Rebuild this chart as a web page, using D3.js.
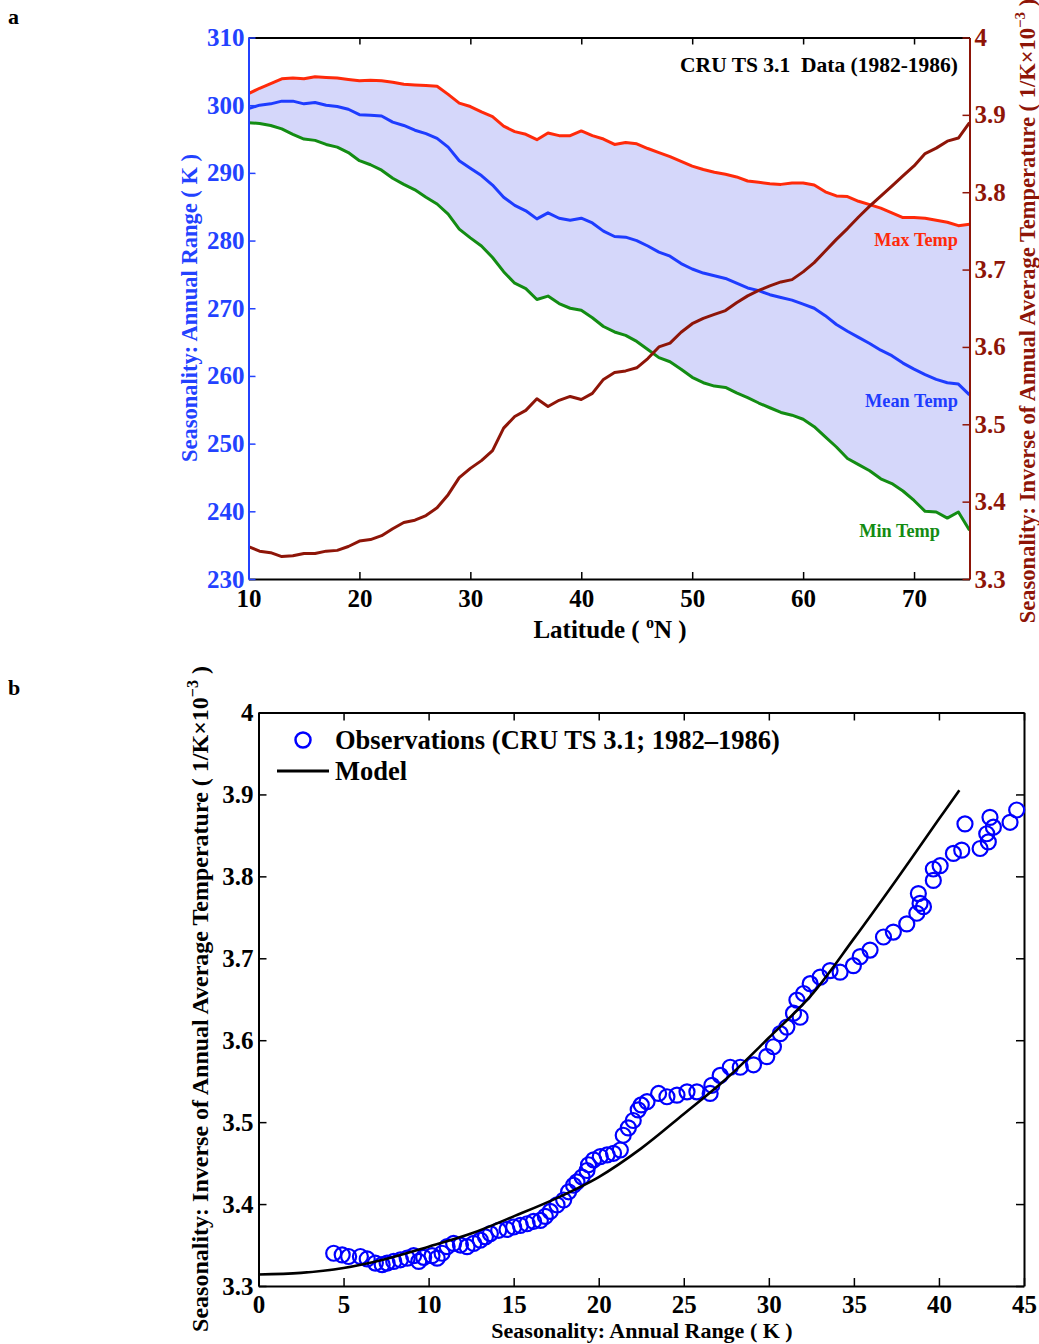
<!DOCTYPE html>
<html><head><meta charset="utf-8">
<script src="https://cdn.jsdelivr.net/npm/d3@7"></script>
<style>
body{margin:0;background:#fff;}
svg text{font-family:"Liberation Serif","Times New Roman",serif;font-weight:bold;white-space:pre;}
</style></head>
<body>
<svg id="chart" width="1039" height="1344"></svg>
<script>
// ---------- Data (panel a) ----------
const latitude = [10,11,12,13,14,15,16,17,18,19,20,21,22,23,24,25,26,27,28,29,30,31,32,33,34,35,36,37,38,39,40,41,42,43,44,45,46,47,48,49,50,51,52,53,54,55,56,57,58,59,60,61,62,63,64,65,66,67,68,69,70,71,72,73,74,75];
const maxTemp = [301.7,302.5,303.2,303.9,304.0,303.9,304.2,304.1,304.0,303.8,303.6,303.7,303.6,303.4,303.1,303.0,302.9,302.8,301.6,300.3,299.8,299.0,298.3,296.9,296.1,295.7,294.9,295.9,295.5,295.5,296.2,295.5,295.0,294.2,294.5,294.3,293.6,293.0,292.4,291.7,291.0,290.5,290.1,289.8,289.4,288.8,288.6,288.4,288.3,288.5,288.5,288.2,287.2,286.6,286.5,285.8,285.3,284.8,284.1,283.4,283.4,283.3,283.0,282.7,282.2,282.4];
const meanTemp = [299.5,300.0,300.2,300.6,300.6,300.2,300.4,300.0,299.8,299.4,298.6,298.5,298.4,297.5,297.0,296.3,295.8,295.1,293.8,291.8,290.7,289.6,288.2,286.4,285.2,284.4,283.2,284.1,283.3,283.0,283.3,282.6,281.4,280.6,280.5,280.0,279.2,278.3,277.7,276.6,275.8,275.2,274.8,274.4,273.7,273.0,272.6,272.0,271.6,271.2,270.6,270.0,268.9,267.6,266.6,265.7,264.8,263.8,263.0,261.9,261.0,260.2,259.5,259.0,258.8,257.2];
const minTemp = [297.4,297.3,297.0,296.5,295.7,295.0,294.8,294.2,293.8,293.0,291.8,291.2,290.4,289.2,288.3,287.5,286.4,285.4,283.9,281.7,280.4,279.2,277.5,275.4,273.7,272.9,271.3,271.8,270.7,270.0,269.7,268.6,267.3,266.5,266.0,265.1,263.9,262.7,262.1,261.0,259.8,259.0,258.5,258.3,257.5,256.8,256.0,255.3,254.6,254.2,253.6,252.5,251.0,249.5,247.8,246.9,246.0,244.8,244.1,243.0,241.6,240.0,239.9,239.0,239.9,237.2];
const inverseTemp = [3.342,3.336,3.334,3.329,3.330,3.333,3.333,3.336,3.337,3.342,3.349,3.351,3.356,3.365,3.373,3.376,3.382,3.392,3.409,3.431,3.443,3.453,3.466,3.495,3.510,3.518,3.533,3.523,3.531,3.536,3.532,3.540,3.558,3.567,3.569,3.573,3.585,3.600,3.605,3.619,3.630,3.637,3.642,3.647,3.657,3.666,3.673,3.679,3.684,3.687,3.697,3.709,3.724,3.739,3.753,3.768,3.782,3.795,3.808,3.821,3.834,3.850,3.857,3.866,3.870,3.890];
const latTicks = [10,20,30,40,50,60,70];
const leftTicks = [230,240,250,260,270,280,290,300,310];
const rightTicks = [3.3,3.4,3.5,3.6,3.7,3.8,3.9,4];

// ---------- Data (panel b) ----------
const obsRange = [4.42,4.92,5.30,5.99,6.39,6.87,7.27,7.56,7.95,8.34,8.74,9.12,9.42,9.71,10.20,10.50,10.79,11.09,11.47,11.87,12.26,12.65,13.04,13.34,13.63,14.12,14.61,15.00,15.39,15.79,16.17,16.57,16.86,17.15,17.55,17.94,18.23,18.52,18.72,19.02,19.31,19.40,19.70,20.09,20.49,20.87,21.27,21.44,21.74,22.03,22.32,22.50,22.84,23.52,24.01,24.60,25.19,25.77,26.55,26.65,27.14,27.73,28.32,29.10,29.88,30.27,30.67,31.06,31.45,31.65,31.84,32.04,32.43,33.02,33.60,34.19,34.97,35.37,35.95,36.74,37.32,38.11,38.70,38.89,38.79,39.09,39.67,39.67,40.07,40.85,41.34,41.53,42.42,42.81,43.00,43.20,42.90,44.18,44.57];
const obsInverse = [3.340,3.338,3.336,3.336,3.333,3.328,3.326,3.328,3.330,3.332,3.334,3.337,3.330,3.335,3.337,3.334,3.340,3.348,3.352,3.350,3.348,3.352,3.356,3.360,3.364,3.368,3.369,3.372,3.374,3.376,3.379,3.380,3.385,3.391,3.399,3.405,3.415,3.423,3.427,3.433,3.441,3.448,3.454,3.458,3.460,3.462,3.466,3.484,3.493,3.502,3.515,3.521,3.525,3.535,3.531,3.533,3.537,3.537,3.535,3.545,3.557,3.567,3.567,3.570,3.580,3.592,3.608,3.616,3.633,3.649,3.628,3.657,3.669,3.677,3.685,3.683,3.691,3.702,3.710,3.726,3.732,3.742,3.755,3.767,3.779,3.763,3.795,3.809,3.813,3.828,3.832,3.864,3.834,3.852,3.872,3.860,3.842,3.866,3.881];
const modelRange = [0,2.5,5,7.5,10,12.5,15,17.5,20,22.5,25,27.5,30,32.5,35,37.5,40,41.2];
const modelInverse = [3.314,3.316,3.322,3.333,3.348,3.364,3.385,3.407,3.433,3.468,3.510,3.553,3.603,3.655,3.724,3.796,3.870,3.905];
const rangeTicks = [0,5,10,15,20,25,30,35,40,45];
const inverseTicks = [3.3,3.4,3.5,3.6,3.7,3.8,3.9,4];

// ---------- Styles ----------
const C = {
  red:"#ff2a0a", blue:"#1e3cff", green:"#138c13", dark:"#8e1508",
  fill:"#d5d7fa", tickBlue:"#2342ff", black:"#000"
};

const svg = d3.select("#chart");

// ================= PANEL A =================
const A = {l:248.5, r:969.5, t:37.5, b:579};
const xA = d3.scaleLinear().domain([10,75]).range([A.l, A.r]);
const yL = d3.scaleLinear().domain([230,310]).range([A.b, A.t]);
const yR = d3.scaleLinear().domain([3.3,4]).range([A.b, A.t]);

const gA = svg.append("g");
const rows = latitude.map((lat,i)=>({lat, mx:maxTemp[i], mn:minTemp[i], me:meanTemp[i], inv:inverseTemp[i]}));

gA.append("path").datum(rows)
  .attr("fill", C.fill)
  .attr("d", d3.area().x(d=>xA(d.lat)).y0(d=>yL(d.mn)).y1(d=>yL(d.mx)));

const lineA = (acc, sc) => d3.line().x(d=>xA(d.lat)).y(d=>sc(acc(d)));
[[d=>d.mx, C.red],[d=>d.me, C.blue],[d=>d.mn, C.green]].forEach(([acc,col])=>{
  gA.append("path").datum(rows).attr("fill","none").attr("stroke",col)
    .attr("stroke-width",3).attr("stroke-linejoin","round")
    .attr("d", lineA(acc, yL));
});
gA.append("path").datum(rows).attr("fill","none").attr("stroke",C.dark)
  .attr("stroke-width",3).attr("stroke-linejoin","round")
  .attr("d", lineA(d=>d.inv, yR));

function styleAxis(g, color, fs){
  g.select(".domain").attr("stroke", color).attr("stroke-width", 2);
  g.selectAll(".tick line").attr("stroke", color).attr("stroke-width", 1.5);
  g.selectAll(".tick text").attr("fill", color).attr("font-size", fs)
    .attr("font-family", '"Liberation Serif","Times New Roman",serif').attr("font-weight","bold");
}

// bottom axis
const axB = gA.append("g").attr("transform",`translate(0,${A.b})`)
  .call(d3.axisBottom(xA).tickValues(latTicks).tickSizeInner(-7).tickSizeOuter(0).tickPadding(10).tickFormat(d3.format("d")));
styleAxis(axB, C.black, 25);
// top axis
const axT = gA.append("g").attr("transform",`translate(0,${A.t})`)
  .call(d3.axisTop(xA).tickValues(latTicks).tickSizeInner(-7).tickSizeOuter(0).tickFormat(""));
styleAxis(axT, C.black, 25);
// left axis
const axL = gA.append("g").attr("transform",`translate(${A.l},0)`)
  .call(d3.axisLeft(yL).tickValues(leftTicks).tickSizeInner(-7).tickSizeOuter(0).tickPadding(4).tickFormat(d3.format("d")));
styleAxis(axL, C.tickBlue, 25);
// right axis
const axR = gA.append("g").attr("transform",`translate(${A.r},0)`)
  .call(d3.axisRight(yR).tickValues(rightTicks).tickSizeInner(-7).tickSizeOuter(0).tickPadding(5).tickFormat(d=> d===4 ? "4" : d3.format(".1f")(d)));
styleAxis(axR, C.dark, 25);

// Panel A texts
svg.append("text").attr("x",8).attr("y",24).attr("font-size",22).text("a");
gA.append("text").attr("x",958).attr("y",72).attr("text-anchor","end").attr("font-size",21.5).text("CRU TS 3.1  Data (1982-1986)");
gA.append("text").attr("x",958).attr("y",246).attr("text-anchor","end").attr("font-size",18.3).attr("fill",C.red).text("Max Temp");
gA.append("text").attr("x",958).attr("y",407).attr("text-anchor","end").attr("font-size",18.3).attr("fill",C.blue).text("Mean Temp");
gA.append("text").attr("x",940).attr("y",537).attr("text-anchor","end").attr("font-size",18.3).attr("fill",C.green).text("Min Temp");

const xt = gA.append("text").attr("x",610).attr("y",638).attr("text-anchor","middle").attr("font-size",25);
xt.append("tspan").text("Latitude ( ");
xt.append("tspan").attr("font-size",16).attr("dy",-10).text("o");
xt.append("tspan").attr("dy",10).text("N )");

gA.append("text").attr("transform","translate(197,308) rotate(-90)").attr("text-anchor","middle")
  .attr("font-size",22.5).attr("fill",C.tickBlue).text("Seasonality: Annual Range ( K )");

const rt = gA.append("text").attr("transform","translate(1035,311) rotate(-90)").attr("text-anchor","middle")
  .attr("font-size",22.5).attr("fill",C.dark);
rt.append("tspan").text("Seasonality: Inverse of Annual Average Temperature ( 1/K×10");
rt.append("tspan").attr("font-size",15).attr("dy",-10).text("−3");
rt.append("tspan").attr("dy",10).text(" )");

// ================= PANEL B =================
const B = {l:258.5, r:1024, t:712.5, b:1286};
const xB = d3.scaleLinear().domain([0,45]).range([B.l, B.r]);
const yB = d3.scaleLinear().domain([3.3,4]).range([B.b, B.t]);
const gB = svg.append("g");

svg.append("text").attr("x",8).attr("y",695).attr("font-size",22).text("b");

// frame axes
const bB = gB.append("g").attr("transform",`translate(0,${B.b})`)
  .call(d3.axisBottom(xB).tickValues(rangeTicks).tickSizeInner(-8).tickSizeOuter(0).tickPadding(9).tickFormat(d3.format("d")));
styleAxis(bB, C.black, 25);
const bT = gB.append("g").attr("transform",`translate(0,${B.t})`)
  .call(d3.axisTop(xB).tickValues(rangeTicks).tickSizeInner(-8).tickSizeOuter(0).tickFormat(""));
styleAxis(bT, C.black, 25);
const bL = gB.append("g").attr("transform",`translate(${B.l},0)`)
  .call(d3.axisLeft(yB).tickValues(inverseTicks).tickSizeInner(-8).tickSizeOuter(0).tickPadding(5).tickFormat(d=> d===4 ? "4" : d3.format(".1f")(d)));
styleAxis(bL, C.black, 25);
const bR = gB.append("g").attr("transform",`translate(${B.r},0)`)
  .call(d3.axisRight(yB).tickValues(inverseTicks).tickSizeInner(-8).tickSizeOuter(0).tickFormat(""));
styleAxis(bR, C.black, 25);

// observations
const obs = obsRange.map((x,i)=>({x, y:obsInverse[i]}));
gB.append("g").selectAll("circle").data(obs).join("circle")
  .attr("cx",d=>xB(d.x)).attr("cy",d=>yB(d.y)).attr("r",7.5)
  .attr("fill","none").attr("stroke","#0000ff").attr("stroke-width",2.2);

// model
const model = modelRange.map((x,i)=>({x, y:modelInverse[i]}));
gB.append("path").datum(model).attr("fill","none").attr("stroke","#000").attr("stroke-width",2.6)
  .attr("d", d3.line().x(d=>xB(d.x)).y(d=>yB(d.y)).curve(d3.curveCatmullRom));

// legend
gB.append("circle").attr("cx",303).attr("cy",740).attr("r",7.5).attr("fill","none").attr("stroke","#0000ff").attr("stroke-width",2.5);
gB.append("text").attr("x",335).attr("y",749).attr("font-size",26.5).text("Observations (CRU TS 3.1; 1982–1986)");
gB.append("line").attr("x1",277).attr("x2",329).attr("y1",771).attr("y2",771).attr("stroke","#000").attr("stroke-width",3);
gB.append("text").attr("x",335).attr("y",780).attr("font-size",26.5).text("Model");

// titles
gB.append("text").attr("x",642).attr("y",1338).attr("text-anchor","middle").attr("font-size",22).text("Seasonality: Annual Range ( K )");
const yt = gB.append("text").attr("transform","translate(208,999) rotate(-90)").attr("text-anchor","middle").attr("font-size",24);
yt.append("tspan").text("Seasonality: Inverse of Annual Average Temperature ( 1/K×10");
yt.append("tspan").attr("font-size",16).attr("dy",-10).text("−3");
yt.append("tspan").attr("dy",10).text(" )");
</script>
</body></html>
